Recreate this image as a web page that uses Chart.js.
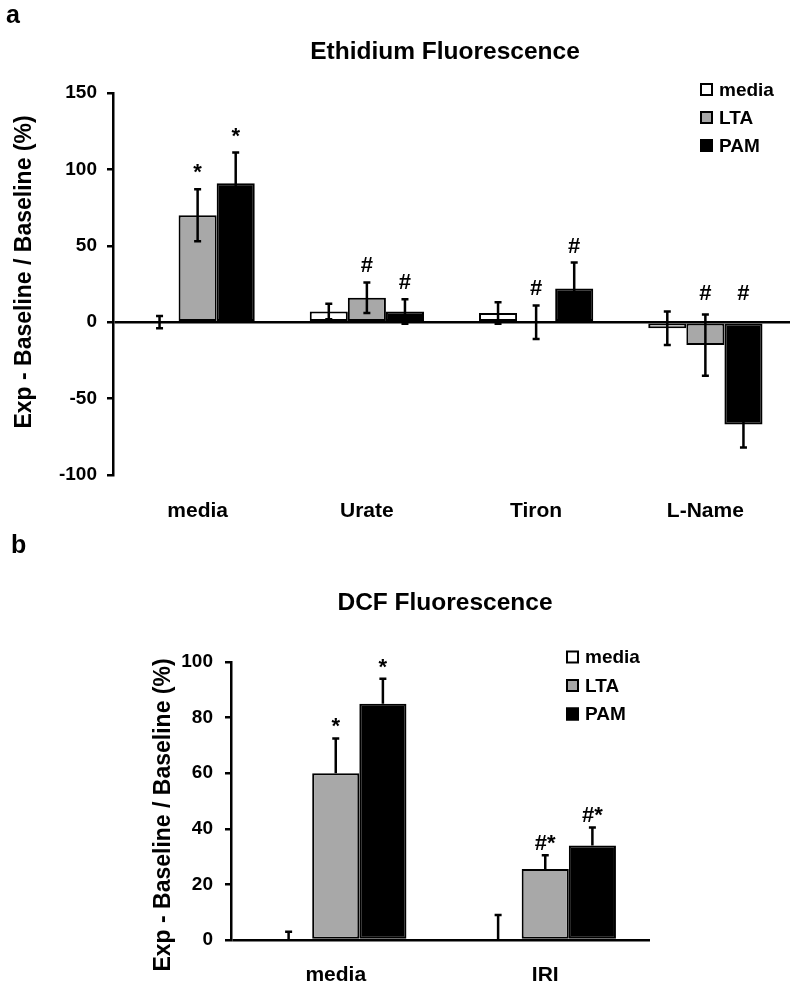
<!DOCTYPE html>
<html>
<head>
<meta charset="utf-8"/>
<title>Ethidium / DCF Fluorescence</title>
<script src="https://cdn.jsdelivr.net/npm/chart.js"></script>
<style>
    body { margin: 0; background: #fff; }
    #wrap { position: relative; width: 799px; height: 989px; }
    canvas { position: absolute; left: 0; }
    #chartA { top: 0; }
    #chartB { top: 530px; }
</style>
</head>
<body>
<div id="wrap">
    <canvas id="chartA" width="799" height="530"></canvas>
    <canvas id="chartB" width="799" height="459"></canvas>
</div>

<script>
// panel a - Ethidium
const ethCategories = ['media', 'Urate', 'Tiron', 'L-Name'];
const ethMedia = [0, 7, 6, -4];
const ethMediaErr = [4, 5, 7, 11];
const ethLta = [70, 16, 0, -15];
const ethLtaErr = [17, 10, 11, 20];
const ethPam = [91, 7, 22, -67];
const ethPamErr = [20, 8, 17, 15];
const ethMediaMarks = ['', '', '', ''];
const ethLtaMarks = ['*', '#', '#', '#'];
const ethPamMarks = ['*', '#', '#', '#'];
const ethTicks = [-100, -50, 0, 50, 100, 150];

// panel b - DCF
const dcfCategories = ['media', 'IRI'];
const dcfMedia = [0, 0];
const dcfMediaErr = [3, 9];
const dcfLta = [60, 25.5];
const dcfLtaErr = [12.5, 5];
const dcfPam = [85, 34];
const dcfPamErr = [9, 6.5];
const dcfMediaMarks = ['', ''];
const dcfLtaMarks = ['*', '#*'];
const dcfPamMarks = ['*', '#*'];
const dcfTicks = [0, 20, 40, 60, 80, 100];

const seriesNames = ['media', 'LTA', 'PAM'];
const seriesFill = ['#ffffff', '#a8a8a8', '#000000'];
const yTitle = 'Exp - Baseline / Baseline (%)';
const FONT = '"Liberation Sans", Arial, Helvetica, sans-serif';

// error bars, stars, titles, legend
const decor = {
    id: 'decor',
    afterDatasetsDraw(chart, args, o) {
        const ctx = chart.ctx;
        const y = chart.scales.y;
        const zero = y.getPixelForValue(0);
        ctx.save();
        ctx.strokeStyle = '#000';
        ctx.lineWidth = 2.5;
        chart.data.datasets.forEach((ds, i) => {
            chart.getDatasetMeta(i).data.forEach((bar, j) => {
                const v = ds.data[j], e = ds.err[j];
                const top = y.getPixelForValue(v + e);
                const bot = y.getPixelForValue(o.twoSided ? v - e : v);
                ctx.beginPath();
                ctx.moveTo(bar.x, top);
                ctx.lineTo(bar.x, bot);
                ctx.moveTo(bar.x - 3.5, top);
                ctx.lineTo(bar.x + 3.5, top);
                if (o.twoSided) {
                    ctx.moveTo(bar.x - 3.5, bot);
                    ctx.lineTo(bar.x + 3.5, bot);
                }
                ctx.stroke();
                const m = ds.marks[j];
                if (m) {
                    ctx.fillStyle = '#000';
                    ctx.font = 'bold 22px ' + FONT;
                    ctx.textAlign = 'center';
                    ctx.textBaseline = 'alphabetic';
                    ctx.fillText(m, bar.x, Math.min(top, zero - 12) - o.markGap);
                }
            });
        });
        ctx.restore();
    },
    afterDraw(chart, args, o) {
        const ctx = chart.ctx;
        ctx.save();
        ctx.fillStyle = '#000';
        ctx.textBaseline = 'middle';

        ctx.font = 'bold 25px ' + FONT;
        ctx.textAlign = 'left';
        ctx.fillText(o.letter, o.letterX, o.letterY);

        ctx.font = 'bold 24.5px ' + FONT;
        ctx.textAlign = 'center';
        ctx.fillText(o.title, o.titleX, o.titleY);

        ctx.save();
        ctx.translate(o.yTitleX, o.yTitleY);
        ctx.rotate(-Math.PI / 2);
        ctx.font = 'bold 23px ' + FONT;
        ctx.fillText(yTitle, 0, 0);
        ctx.restore();

        ctx.font = 'bold 19px ' + FONT;
        ctx.textAlign = 'left';
        ctx.lineWidth = 2;
        chart.data.datasets.forEach((ds, i) => {
            const cy = o.legendY + i * o.legendStep;
            ctx.fillStyle = ds.backgroundColor;
            ctx.fillRect(o.legendX, cy - 6.5, 13, 13);
            ctx.strokeStyle = '#000';
            ctx.strokeRect(o.legendX + 1, cy - 5.5, 11, 11);
            ctx.fillStyle = '#000';
            ctx.fillText(ds.label, o.legendX + 19, cy + 1);
        });
        ctx.restore();
    }
};

function makeDatasets(vals, errs, marks) {
    return seriesNames.map((name, i) => ({
        label: name,
        data: vals[i],
        err: errs[i],
        marks: marks[i],
        backgroundColor: seriesFill[i],
        borderColor: '#000',
        borderWidth: 2,
        borderSkipped: false,
        barPercentage: 1.0,
        categoryPercentage: 0.675
    }));
}

function makeChart(id, labels, datasets, ticks, f) {
    return new Chart(document.getElementById(id), {
        type: 'bar',
        data: { labels: labels, datasets: datasets },
        plugins: [decor],
        options: {
            responsive: false,
            animation: false,
            layout: { padding: f.padding },
            plugins: {
                legend: { display: false },
                tooltip: { enabled: false },
                decor: f.decor
            },
            scales: {
                x: {
                    grid: { display: false },
                    border: { display: false },
                    ticks: {
                        color: '#000',
                        padding: f.xPad,
                        font: { family: FONT, size: 21, weight: 'bold' }
                    },
                    afterFit: s => { s.height = f.xHeight; }
                },
                y: {
                    min: ticks[0],
                    max: ticks[ticks.length - 1],
                    ticks: {
                        stepSize: ticks[1] - ticks[0],
                        color: '#000',
                        padding: f.yPad,
                        font: { family: FONT, size: 19, weight: 'bold' }
                    },
                    grid: {
                        drawOnChartArea: true,
                        color: c => (c.tick && c.tick.value === 0) ? '#000' : 'rgba(0,0,0,0)',
                        lineWidth: 2.5,
                        tickColor: '#000',
                        tickWidth: 2.5,
                        tickLength: 6
                    },
                    border: { display: true, color: '#000', width: 2.5 },
                    afterFit: s => { s.width = f.yWidth; }
                }
            }
        }
    });
}

makeChart('chartA', ethCategories,
    makeDatasets([ethMedia, ethLta, ethPam], [ethMediaErr, ethLtaErr, ethPamErr],
                 [ethMediaMarks, ethLtaMarks, ethPamMarks]),
    ethTicks,
    {
        padding: { top: 93, right: 9, left: 0, bottom: 0 },
        yWidth: 113, xHeight: 55, xPad: 16, yPad: 10,
        decor: {
            twoSided: true, markGap: 10,
            letter: 'a', letterX: 6, letterY: 16,
            title: 'Ethidium Fluorescence', titleX: 445, titleY: 52,
            yTitleX: 25, yTitleY: 272,
            legendX: 700, legendY: 89.5, legendStep: 28
        }
    });

makeChart('chartB', dcfCategories,
    makeDatasets([dcfMedia, dcfLta, dcfPam], [dcfMediaErr, dcfLtaErr, dcfPamErr],
                 [dcfMediaMarks, dcfLtaMarks, dcfPamMarks]),
    dcfTicks,
    {
        padding: { top: 132, right: 149, left: 0, bottom: 0 },
        yWidth: 231, xHeight: 49, xPad: 15, yPad: 12,
        decor: {
            twoSided: false, markGap: 5,
            letter: 'b', letterX: 11, letterY: 16,
            title: 'DCF Fluorescence', titleX: 445, titleY: 73,
            yTitleX: 164, yTitleY: 285,
            legendX: 566, legendY: 127, legendStep: 28.5
        }
    });
</script>
</body>
</html>
